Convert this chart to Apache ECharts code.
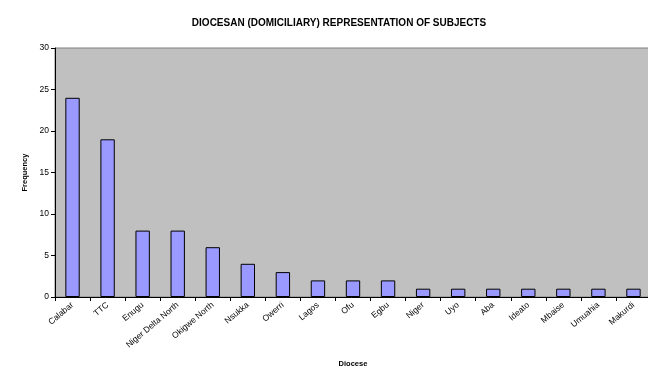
<!DOCTYPE html>
<html>
<head>
<meta charset="utf-8">
<script src="https://cdn.jsdelivr.net/npm/echarts@6/dist/echarts.min.js"></script>
<style>
  html, body { margin: 0; padding: 0; background: #fff; }
  #chart { width: 648px; height: 367px; }
</style>
</head>
<body>
<div id="chart"></div>
<script>
// Dioceses of the subjects and how many come from each
const dioceses = ["Calabar", "TTC", "Enugu", "Niger Delta North", "Okigwe North", "Nsukka", "Owerri", "Lagos", "Ofu", "Egbu", "Niger", "Uyo", "Aba", "Ideato", "Mbaise", "Umuahia", "Makurdi"];
const frequency = [24, 19, 8, 8, 6, 4, 3, 2, 2, 2, 1, 1, 1, 1, 1, 1, 1];
const yTicks = [0, 5, 10, 15, 20, 25, 30];

const font = "'Liberation Sans', Arial, sans-serif";
const chart = echarts.init(document.getElementById('chart'));

chart.setOption({
  animation: false,
  backgroundColor: '#ffffff',
  title: {
    text: 'DIOCESAN (DOMICILIARY) REPRESENTATION OF SUBJECTS',
    left: 334,
    top: 13,
    textAlign: 'center',
    textStyle: { fontFamily: font, fontSize: 10, fontWeight: 'bold', color: '#000' }
  },
  grid: {
    left: 55, top: 48, right: -3, bottom: 70,
    outerBoundsMode: 'none',
    containLabel: false,
    show: true,
    backgroundColor: '#C0C0C0',
    borderColor: '#808080',
    borderWidth: 1
  },
  xAxis: {
    type: 'category',
    data: dioceses,
    name: 'Diocese',
    nameLocation: 'middle',
    nameGap: 63,
    nameTextStyle: { fontFamily: font, fontSize: 7.5, fontWeight: 'bold', color: '#000' },
    axisLine: { lineStyle: { color: '#000', width: 1 } },
    axisTick: { show: true, alignWithLabel: false, length: 4, lineStyle: { color: '#000' } },
    axisLabel: {
      rotate: 40,
      interval: 0,
      margin: 7,
      fontFamily: font,
      fontSize: 8.5,
      color: '#000'
    },
    splitLine: { show: false }
  },
  yAxis: {
    type: 'value',
    min: yTicks[0],
    max: yTicks[yTicks.length - 1],
    interval: 5,
    name: 'Frequency',
    nameLocation: 'middle',
    nameRotate: 90,
    nameGap: 21,
    nameTextStyle: { fontFamily: font, fontSize: 7.5, fontWeight: 'bold', color: '#000' },
    axisLine: { show: true, lineStyle: { color: '#000', width: 1 } },
    axisTick: { show: true, length: 4, lineStyle: { color: '#000' } },
    axisLabel: { fontFamily: font, fontSize: 8.5, color: '#000', margin: 6 },
    splitLine: { show: false }
  },
  series: [{
    type: 'bar',
    data: frequency,
    barWidth: '41%',
    itemStyle: { color: '#9999FF', borderColor: '#000', borderWidth: 1 }
  }]
});
</script>
</body>
</html>
